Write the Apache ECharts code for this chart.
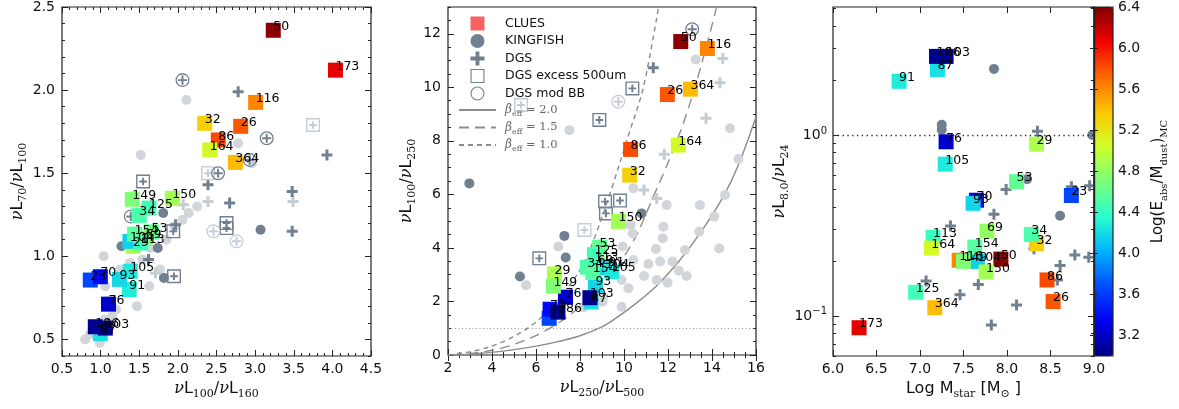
<!DOCTYPE html>
<html><head><meta charset="utf-8">
<script src="https://cdn.jsdelivr.net/npm/echarts@6/dist/echarts.min.js"></script>
<style>html,body{margin:0;padding:0;background:#fff}#c{width:1179px;height:409px}</style>
</head><body><div id="c"></div>
<script>
// ---------------- DATA ----------------
const ids  = [23, 26, 29, 32, 34, 50, 53, 69, 70, 76, 86, 87, 91, 93, 103, 104, 105, 113, 116, 125, 149, 150, 154, 164, 173, 186, 364];
const logE = [3.65,5.78,4.90,5.32,4.50,6.36,4.60,4.80,3.38,3.22,5.82,4.22,4.28,4.18,3.05,4.15,4.26,4.42,5.62,4.46,4.72,4.86,4.55,5.07,6.10,3.05,5.42];
// panel 1: nuL100/nuL160 vs nuL70/nuL100
const p1x = [0.866,2.813,1.42,2.347,1.50,3.235,1.66,1.58,0.996,1.102,2.523,0.996,1.37,1.244,1.061,1.38,1.384,1.52,3.007,1.626,1.41,1.928,1.44,2.412,4.04,0.931,2.744];
const p1y = [0.857,1.782,1.06,1.80,1.246,2.36,1.147,1.11,0.877,0.712,1.70,0.534,0.80,0.861,0.568,1.09,0.91,1.08,1.926,1.29,1.343,1.349,1.133,1.64,2.12,0.576,1.565];
// panel 2: nuL250/nuL500 vs nuL100/nuL250
const p2x = [6.60,11.97,6.84,10.26,8.33,12.58,8.89,8.80,6.64,7.34,10.30,8.50,9.30,8.70,8.45,9.15,9.45,8.66,13.79,8.66,6.79,9.75,8.58,12.47,null,7.00,13.02];
const p2y = [1.37,9.73,3.03,6.72,3.28,11.71,4.03,3.40,1.71,2.16,7.68,1.98,3.30,2.60,2.14,3.25,3.12,3.52,11.45,3.75,2.57,4.99,3.08,7.84,null,1.60,9.93];
// panel 3: Log Mstar vs nuL8/nuL24
const p3x = [8.74,8.53,8.34,8.34,8.28,7.93,8.11,7.77,7.65,7.30,8.46,7.20,6.76,7.61,7.30,7.66,7.29,7.15,7.45,6.95,7.50,7.76,7.63,7.13,6.30,7.19,7.17];
const p3y = [0.463,0.120,0.89,0.250,0.282,0.206,0.552,0.294,0.436,0.917,0.158,2.30,1.98,0.419,2.72,0.200,0.69,0.272,0.203,0.135,0.200,0.175,0.240,0.237,0.086,2.72,0.111];

const p1KfDark  = [[1.81,1.26],[3.07,1.16],[1.27,1.06],[1.74,1.05],[1.82,0.87]];
const p1KfLight = [[2.11,1.94],[1.52,1.61],[2.78,1.68],[2.25,1.30],[2.14,1.26],[2.06,1.22],[1.96,1.18],[1.04,1.00],[1.38,0.96],[1.47,0.70],[1.63,0.82],[1.77,0.92],[1.54,0.98],[1.64,1.05],[1.67,1.14],[1.15,0.64],[1.06,0.82],[1.12,0.73],[0.80,0.50],[0.86,0.53],[0.99,0.48],[1.20,0.68],[1.35,0.90],[1.05,0.62],[1.85,1.10],[1.25,0.92],[2.96,1.56]];
const p1DgsDark  = [[2.78,1.99],[3.93,1.61],[2.39,1.43],[2.67,1.32],[3.48,1.39],[3.48,1.15],[1.97,1.19],[1.62,0.98]];
const p1DgsLight = [[2.39,1.33],[2.07,1.31],[3.49,1.33],[1.71,0.90]];
const p1ExDark  = [[1.55,1.45],[2.63,1.20],[2.63,1.17],[1.94,1.15],[1.95,0.88]];
const p1ExLight = [[3.75,1.79],[2.39,1.50]];
const p1BbDark  = [[2.06,2.06],[3.15,1.71],[2.52,1.50],[2.93,1.58],[1.39,1.24]];
const p1BbLight = [[2.46,1.15],[2.76,1.09]];

const p2KfDark  = [[2.97,6.41],[5.27,2.93],[7.29,4.45],[7.35,3.64],[10.80,5.29],[6.71,2.68]];
const p2KfLight = [[10.42,6.23],[11.94,5.60],[13.45,5.60],[14.59,5.98],[14.10,5.17],[13.42,4.61],[11.79,4.79],[11.76,4.36],[11.45,3.96],[10.39,4.54],[10.42,3.55],[11.11,3.40],[11.64,3.49],[12.20,3.49],[12.77,3.92],[12.49,3.15],[12.85,2.95],[11.98,2.70],[11.49,2.80],[10.91,2.95],[10.20,2.49],[9.89,2.80],[9.89,1.80],[9.06,2.18],[8.15,1.78],[7.01,4.05],[5.55,2.61],[14.33,3.98],[10.30,4.86],[9.94,4.05],[7.52,8.40],[13.26,11.04],[14.82,8.47],[15.20,7.32],[9.03,1.99]];
const p2DgsDark  = [[11.33,10.73]];
const p2DgsLight = [[14.49,11.08],[14.36,10.17],[13.73,8.84],[11.83,7.50],[10.91,6.16],[11.49,5.85]];
const p2ExDark  = [[10.38,9.96],[8.88,8.78],[6.15,3.61],[9.14,5.73],[9.82,5.77],[9.18,5.29]];
const p2ExLight = [[5.32,9.34],[8.20,4.67]];
const p2BbDark  = [[13.10,12.17]];
const p2BbLight = [[9.74,9.46]];

const p3KfDark  = [[7.85,2.32],[7.25,1.14],[7.25,1.07],[8.98,1.0],[8.23,0.57],[8.61,0.358]];
const p3DgsDark = [[8.35,1.05],[7.99,0.50],[8.74,0.518],[8.95,0.524],[7.85,0.365],[7.35,0.314],[8.78,0.217],[8.94,0.211],[8.61,0.190],[8.58,0.158],[7.07,0.156],[7.67,0.149],[7.46,0.131],[8.11,0.115],[7.82,0.089],[8.31,0.235]];

const beta20 = [[2.0,0.0],[3.0,0.03],[4.0,0.1],[5.0,0.2],[6.0,0.33],[7.0,0.5],[8.0,0.72],[9.0,1.05],[9.5,1.3],[10.5,1.9],[11.5,2.6],[12.5,3.5],[13.5,4.6],[14.5,5.9],[15.2,7.1],[16.0,8.9]];
const beta15 = [[2.2,0.0],[2.85,0.03],[4.67,0.31],[6.48,0.93],[8.0,1.8],[9.21,2.8],[10.42,4.25],[11.33,5.91],[12.24,7.66],[12.85,9.03],[13.45,10.65],[14.14,12.76],[14.2,13.0]];
const beta10 = [[2.0,0.0],[2.3,0.03],[3.45,0.2],[4.67,0.56],[6.03,1.25],[7.24,2.3],[8.15,3.4],[8.76,4.6],[9.51,6.4],[10.2,8.2],[10.88,10.0],[11.56,12.95]];

// tick values
const p1XMajor = [0.5,1.0,1.5,2.0,2.5,3.0,3.5,4.0,4.5];
const p1YMajor = [0.5,1.0,1.5,2.0,2.5];
const p2XMajor = [2,4,6,8,10,12,14,16];
const p2YMajor = [0,2,4,6,8,10,12];
const p3XMajor = [6.0,6.5,7.0,7.5,8.0,8.5,9.0];
const p3YMajor = [0.1,1];
const p3YMinor = [0.06,0.07,0.08,0.09,0.2,0.3,0.4,0.5,0.6,0.7,0.8,0.9,2,3,4,5];
const cbTicks  = [3.2,3.6,4.0,4.4,4.8,5.2,5.6,6.0,6.4];

// ---------------- BUILD ----------------
function steps(a, b, s){ const r=[]; const n=Math.round((b-a)/s); for(let i=0;i<=n;i++) r.push(+(a+i*s).toFixed(4)); return r; }
const p1XMinor = steps(0.5,4.5,0.1), p1YMinor = steps(0.4,2.5,0.1);
const p2XMinor = steps(2,16,0.5), p2YMinor = steps(0,13,0.5);

const FONT = 'DejaVu Sans', SERIF = 'DejaVu Serif';
const TC = '#111';
const NAME_RICH = {
  n:{fontFamily:SERIF, fontStyle:'italic', fontSize:16, lineHeight:22, color:TC},
  l:{fontFamily:FONT, fontSize:16, lineHeight:22, color:TC},
  sl:{fontFamily:SERIF, fontSize:16, lineHeight:22, color:TC},
  s:{fontFamily:SERIF, fontSize:11, lineHeight:14, verticalAlign:'bottom', color:TC}
};
const LBL_RICH = {
  b:{fontFamily:FONT, fontSize:14, lineHeight:18, color:TC},
  p:{fontFamily:FONT, fontSize:10, lineHeight:10, verticalAlign:'top', color:TC}
};

function axisSet(dim, gi, o){
  const posA = dim==='x' ? 'bottom' : 'left';
  const posB = dim==='x' ? 'top' : 'right';
  const mk = (pos, ticks, len, main) => {
    const a = {gridIndex:gi, type:o.type||'value', min:o.min, max:o.max, position:pos,
      splitLine:{show:false}, axisLine:{show:false},
      axisTick:{show: ticks.length>0, inside:true, length:len, customValues:ticks, lineStyle:{color:'#222', width:1}},
      axisLabel: main ? {show:true, customValues:o.labels, formatter:o.fmt, fontFamily:FONT, fontSize:14, color:TC, margin:o.margin||6, rich:LBL_RICH} : {show:false}
    };
    if (main && o.name){
      Object.assign(a, {name:o.name, nameLocation:'middle', nameGap:o.nameGap, nameTextStyle:{rich:NAME_RICH, fontSize:16}});
    }
    return a;
  };
  return [mk(posA, o.major, 6, true), mk(posA, o.minor, 3, false), mk(posB, o.major, 6, false), mk(posB, o.minor, 3, false)];
}

const f1 = v => v.toFixed(1), f0 = v => String(Math.round(v));
const xAxes = [].concat(
  axisSet('x',0,{min:0.5,max:4.5,major:p1XMajor,minor:p1XMinor,labels:p1XMajor,fmt:f1,margin:6,
    name:'{n|ν}{l|L}{s|100}{sl|/}{n|ν}{l|L}{s|160}', nameGap:22}),
  axisSet('x',1,{min:2,max:16,major:p2XMajor,minor:p2XMinor,labels:p2XMajor,fmt:f0,margin:6,
    name:'{n|ν}{l|L}{s|250}{sl|/}{n|ν}{l|L}{s|500}', nameGap:22}),
  axisSet('x',2,{min:6,max:9,major:p3XMajor,minor:[],labels:p3XMajor,fmt:f1,margin:6,
    name:'{l|Log M}{s|star}{l| [M}{s|⊙}{l| ]}', nameGap:22}),
  [{gridIndex:3, type:'value', min:0, max:1, show:false}]
);
const yAxes = [].concat(
  axisSet('y',0,{min:0.4,max:2.5,major:p1YMajor,minor:p1YMinor,labels:p1YMajor,fmt:f1,margin:7,
    name:'{n|ν}{l|L}{s|70}{sl|/}{n|ν}{l|L}{s|100}', nameGap:33}),
  axisSet('y',1,{min:0,max:13,major:p2YMajor,minor:p2YMinor,labels:p2YMajor,fmt:f0,margin:7,
    name:'{n|ν}{l|L}{s|100}{sl|/}{n|ν}{l|L}{s|250}', nameGap:30}),
  axisSet('y',2,{type:'log',min:0.06,max:5.1,major:p3YMajor,minor:p3YMinor,labels:p3YMajor,margin:6,
    fmt: v => { const e=Math.round(Math.log10(v)); return '{b|10}{p|'+(e<0?'−'+(-e):e)+'}'; },
    name:'{n|ν}{l|L}{s|8.0}{sl|/}{n|ν}{l|L}{s|24}', nameGap:42}),
  [
    {gridIndex:3, type:'value', min:3.0, max:6.4, position:'right', z:10, splitLine:{show:false},
     axisLine:{show:true, lineStyle:{color:'#222', width:1.2}},
     axisTick:{inside:true, length:4, customValues:cbTicks, lineStyle:{color:'#222'}},
     axisLabel:{customValues:cbTicks, formatter:f1, fontFamily:FONT, fontSize:14, color:TC, margin:5},
     name:'{l|Log(E}{s|abs}{l|/M}{s|dust}{l|)}{s|MC}', nameLocation:'middle', nameGap:34, nameRotate:90,
     nameTextStyle:{rich:{l:{fontFamily:FONT,fontSize:15,lineHeight:22,color:TC}, s:{fontFamily:SERIF,fontSize:10,lineHeight:13,verticalAlign:'bottom',color:TC}}}},
    {gridIndex:3, type:'value', min:3.0, max:6.4, position:'left', z:10, splitLine:{show:false},
     axisLine:{show:true, lineStyle:{color:'#222', width:1.2}},
     axisTick:{inside:true, length:4, customValues:cbTicks, lineStyle:{color:'#222'}},
     axisLabel:{show:false}}
  ]
);

const DARK = '#708090', LIGHT = '#d2d6da', LIGHT2 = '#c4ccd4';
const PLUS = 'path://M4,0H7V4H11V7H7V11H4V7H0V4H4Z';
const SQ_PLUS = 'path://M0,0H20V20H0Z M2,2V18H18V2Z M8.6,4.5H11.4V8.6H15.5V11.4H11.4V15.5H8.6V11.4H4.5V8.6H8.6Z';
const CI_PLUS = 'path://M0,10A10,10 0 1,1 20,10A10,10 0 1,1 0,10Z M1.8,10A8.2,8.2 0 1,0 18.2,10A8.2,8.2 0 1,0 1.8,10Z M8.6,3.5H11.4V8.6H16.5V11.4H11.4V16.5H8.6V11.4H3.5V8.6H8.6Z';
const SQ_FILL = 'path://M0,0H20V20H0Z';
const SQ_OPEN = 'path://M0,0H20V20H0Z M1.6,1.6V18.4H18.4V1.6Z';
const CI_OPEN = 'path://M0,10A10,10 0 1,1 20,10A10,10 0 1,1 0,10Z M1.5,10A8.5,8.5 0 1,0 18.5,10A8.5,8.5 0 1,0 1.5,10Z';

function sc(name, gi, data, symbol, size, color, extra){
  return Object.assign({type:'scatter', name, xAxisIndex:gi*4, yAxisIndex:gi*4, data, symbol, symbolSize:size,
    itemStyle:{color, opacity:1}, z:2, silent:true, emphasis:{disabled:true}}, extra||{});
}
function clues(gi, xs, ys){
  const data = [];
  ids.forEach((id,i)=>{ if (xs[i]!=null && ys[i]!=null) data.push([xs[i], ys[i], logE[i], id]); });
  return {type:'scatter', name:'CLUES', xAxisIndex:gi*4, yAxisIndex:gi*4, data, symbol:'rect', symbolSize:15, z:3,
    silent:true, emphasis:{disabled:true}, itemStyle:{opacity:1},
    label:{show:true, formatter:p=>String(p.value[3]), position:['50%','50%'], align:'left', verticalAlign:'bottom',
      offset:[0,3], fontFamily:FONT, fontSize:12.5, color:'#000'}};
}
function line(name, data, type){
  return {type:'line', name, xAxisIndex:4, yAxisIndex:4, data, symbol:'none', smooth:0.35, z:1, silent:true,
    itemStyle:{color:'#8c8c8c', opacity:0},
    lineStyle:{color:'#8c8c8c', width:1.4, type}, emphasis:{disabled:true}};
}
const dots = (color, w, t) => ({silent:true, symbol:'none', label:{show:false}, lineStyle:{type:t, color, width:w}, data:[{yAxis:1}], animation:false});

const series = [
  clues(0, p1x, p1y), clues(1, p2x, p2y), clues(2, p3x, p3y),
  // panel 1
  sc('KINGFISH-l', 0, p1KfLight, 'circle', 10, LIGHT),
  sc('KINGFISH', 0, p1KfDark, 'circle', 10, DARK),
  sc('DGS-l', 0, p1DgsLight, PLUS, 11, LIGHT2),
  sc('DGS', 0, p1DgsDark, PLUS, 11, DARK),
  sc('DGSx-l', 0, p1ExLight, SQ_PLUS, 14, LIGHT2),
  sc('DGS excess 500um', 0, p1ExDark, SQ_PLUS, 14, DARK),
  sc('DGSb-l', 0, p1BbLight, CI_PLUS, 14, LIGHT2),
  sc('DGS mod BB', 0, p1BbDark, CI_PLUS, 14, DARK),
  // panel 2
  sc('KINGFISH-l', 1, p2KfLight, 'circle', 10, LIGHT, {markLine: dots('#999', 1, [1,2.5])}),
  sc('KINGFISH', 1, p2KfDark, 'circle', 10, DARK),
  sc('DGS-l', 1, p2DgsLight, PLUS, 11, LIGHT2),
  sc('DGS', 1, p2DgsDark, PLUS, 11, DARK),
  sc('DGSx-l', 1, p2ExLight, SQ_PLUS, 14, LIGHT2),
  sc('DGS excess 500um', 1, p2ExDark, SQ_PLUS, 14, DARK),
  sc('DGSb-l', 1, p2BbLight, CI_PLUS, 14, LIGHT2),
  sc('DGS mod BB', 1, p2BbDark, CI_PLUS, 14, DARK),
  line('b20', beta20, 'solid'), line('b15', beta15, [10,6]), line('b10', beta10, [5,4]),
  // panel 3
  sc('KINGFISH', 2, p3KfDark, 'circle', 10, DARK, {markLine: dots('#222', 1.3, [1.3,3.5])}),
  sc('DGS', 2, p3DgsDark, PLUS, 11, DARK)
];

const JET = ['#000080','#0000f4','#004dff','#00b3ff','#29ffce','#7bff7b','#ceff29','#ffc600','#ff6800','#f40000','#800000'];
const BETA = {b20:'2.0', b15:'1.5', b10:'1.0'};
const NOSYM = {color:'rgba(0,0,0,0)', opacity:0, borderWidth:0};

const option = {
  animation:false,
  textStyle:{fontFamily:FONT},
  grid:[
    {left:62, top:7, width:309, height:349, show:true, borderColor:'#222', borderWidth:1.2},
    {left:448, top:7, width:308, height:348, show:true, borderColor:'#222', borderWidth:1.2},
    {left:833, top:7, width:261, height:349, show:true, borderColor:'#222', borderWidth:1.2},
    {left:1094, top:7, width:19, height:349, show:true, borderColor:'#222', borderWidth:1.2, z:10}
  ],
  xAxis:xAxes, yAxis:yAxes,
  visualMap:{type:'continuous', min:3.0, max:6.4, dimension:2, seriesIndex:[0,1,2], inRange:{color:JET},
    left:1094, top:7, itemWidth:19, itemHeight:349, calculable:false, padding:0, hoverLink:false, show:true},
  legend:{orient:'vertical', left:458, top:16.5, itemWidth:37, itemHeight:14, itemGap:3.5, padding:0, selectedMode:false,
    textStyle:{fontFamily:FONT, fontSize:12.5, color:TC, padding:[0,0,0,4],
      rich:{g:{fontFamily:SERIF, fontStyle:'italic', fontSize:12, lineHeight:16, color:'#666'},
            e:{fontFamily:SERIF, fontSize:8, lineHeight:9, verticalAlign:'bottom', color:'#666'},
            r:{fontFamily:SERIF, fontSize:11.5, lineHeight:16, color:'#666'}}},
    formatter: n => BETA[n] ? '{g|β}{e|eff}{r| = '+BETA[n]+'}' : n,
    data:[
      {name:'CLUES', icon:SQ_FILL, itemStyle:{color:'#f86262', opacity:1}},
      {name:'KINGFISH', icon:'circle'},
      {name:'DGS', icon:PLUS},
      {name:'DGS excess 500um', icon:SQ_OPEN},
      {name:'DGS mod BB', icon:CI_OPEN},
      {name:'b20', itemStyle:NOSYM},{name:'b15', itemStyle:NOSYM},{name:'b10', itemStyle:NOSYM}
    ]},
  series
};
const chart = echarts.init(document.getElementById('c'), null, {renderer:'canvas'});
chart.setOption(option);
</script></body></html>
